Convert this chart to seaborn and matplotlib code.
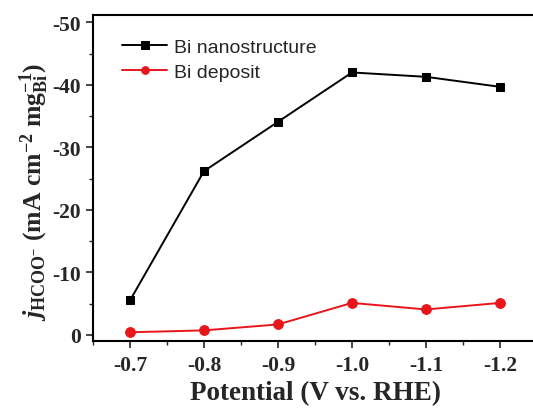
import numpy as np
import pandas as pd
import seaborn as sns
import matplotlib
matplotlib.use("Agg")
import matplotlib.pyplot as plt
from matplotlib.ticker import MultipleLocator

# Partial current density for formate vs. applied potential
potential = [-0.7, -0.8, -0.9, -1.0, -1.1, -1.2]
nano_j = [-5.5, -26.2, -34.1, -42.0, -41.3, -39.7]
deposit_j = [-0.4, -0.7, -1.65, -5.1, -4.05, -5.1]
series_names = ["Bi nanostructure", "Bi deposit"]
x_ticks = [-0.7, -0.8, -0.9, -1.0, -1.1, -1.2]
y_ticks = [0, -10, -20, -30, -40, -50]

sns.set_style("ticks")
plt.rcParams["font.family"] = ["Liberation Serif", "DejaVu Serif"]
plt.rcParams["mathtext.fontset"] = "custom"
plt.rcParams["mathtext.rm"] = "Liberation Serif"
plt.rcParams["mathtext.bf"] = "Liberation Serif:bold"
plt.rcParams["mathtext.it"] = "Liberation Serif:italic"
plt.rcParams["mathtext.bfit"] = "Liberation Serif:bold:italic"

df = pd.DataFrame({
    "Potential": potential * 2,
    "j": nano_j + deposit_j,
    "Sample": [series_names[0]] * len(nano_j) + [series_names[1]] * len(deposit_j),
})

fig = plt.figure(figsize=(5.33, 4.10), dpi=100)
ax = fig.add_axes([93 / 533, 1 - 342 / 410, 444 / 533, 326 / 410])

sns.lineplot(data=df[df["Sample"] == series_names[0]], x="Potential", y="j",
             color="black", marker="s", markersize=6, linewidth=1.4,
             markeredgecolor="black", label=series_names[0], ax=ax)
sns.lineplot(data=df[df["Sample"] == series_names[1]], x="Potential", y="j",
             color="#e8161b", marker="o", markersize=7, linewidth=1.4,
             markeredgecolor="#e8161b", label=series_names[1], ax=ax)

ax.set_xlim(-0.65, -1.25)
ax.set_ylim(1.0, -51.2)
ax.set_xticks(x_ticks)
ax.set_xticklabels([f"{v:.1f}" for v in x_ticks])
ax.set_yticks(y_ticks)
ax.set_yticklabels([f"{v:d}" for v in y_ticks])
ax.xaxis.set_minor_locator(MultipleLocator(0.05))
ax.yaxis.set_minor_locator(MultipleLocator(5))
ax.tick_params(axis="both", which="major", direction="out", length=5, width=1.2,
               labelsize=15.5, top=False, right=False)
ax.tick_params(axis="x", which="major", pad=5)
ax.tick_params(axis="both", which="minor", direction="out", length=3, width=1.0,
               top=False, right=False)
for lab in ax.get_xticklabels() + ax.get_yticklabels():
    lab.set_fontweight("bold")
for side in ["left", "bottom", "top", "right"]:
    ax.spines[side].set_linewidth(1.5)
    ax.spines[side].set_color("black")

ax.set_xlabel("Potential (V vs. RHE)", fontsize=19.5, fontweight="bold", labelpad=4)
ax.set_ylabel(r"$\mathbfit{j}_{\mathbf{HCOO}^{\mathbf{-}}}\ \mathbf{(mA\ cm^{-2}\ mg_{Bi}^{-1})}$",
              fontsize=18.5)
ax.yaxis.set_label_coords(-0.095, 0.46)

leg = ax.legend(loc="upper left", bbox_to_anchor=(0.04, 0.965), frameon=False,
                prop={"family": "Liberation Sans", "size": 14},
                handlelength=2.3, handletextpad=0.35, labelspacing=0.4, borderaxespad=0.2)
for h in leg.legend_handles:
    h.set_markersize(5.5)

fig.savefig("out.png", dpi=100)
